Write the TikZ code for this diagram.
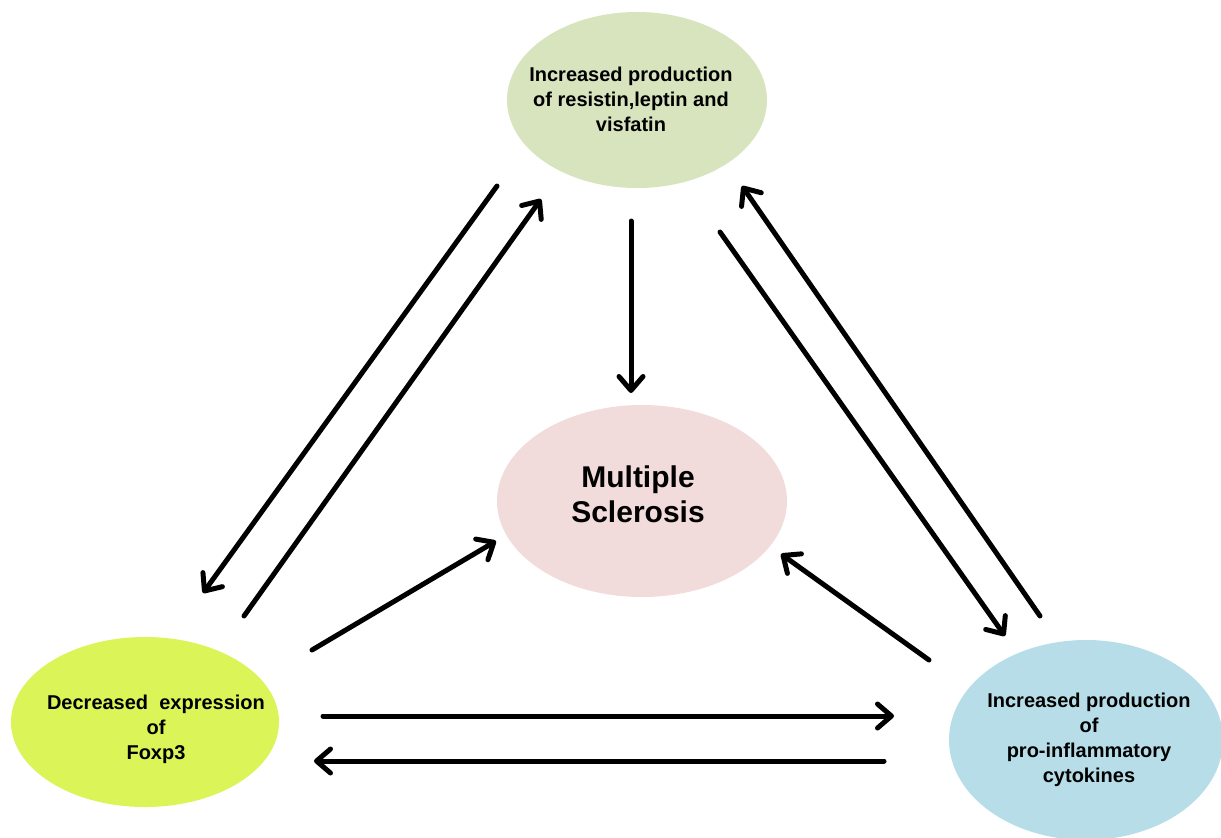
\documentclass[tikz,border=0pt]{standalone}
\usepackage{fontspec}
\setmainfont{Liberation Sans}
\usetikzlibrary{shapes.geometric,arrows.meta}
\definecolor{topgreen}{HTML}{D7E4BD}
\definecolor{mspink}{HTML}{F2DCDB}
\definecolor{limegreen}{HTML}{DBF457}
\definecolor{lightblue}{HTML}{B7DEE8}
\begin{document}
\begin{tikzpicture}[x=0.5pt,y=-0.5pt,
  blob/.style={ellipse,inner sep=0pt},
  txt/.style={align=center,inner sep=0pt,font=\bfseries\fontsize{10}{12.5}\selectfont},
  arr/.style={line width=2.5pt,line cap=round,-{Straight Barb[length=7pt,width=12pt,line cap=round,line join=round]}}]
\useasboundingbox (0,0) rectangle (1221,837);
\node[blob,fill=topgreen,minimum width=130pt,minimum height=88pt] (top) at (637,100) {};
\node[txt] (toptxt) at (631,99) {Increased production\\of resistin,leptin and\\visfatin};
\node[blob,fill=mspink,minimum width=145pt,minimum height=96pt] (ms) at (642,501) {};
\node[txt,font=\bfseries\fontsize{15}{17.5}\selectfont] (mstxt) at (638,494) {Multiple\\Sclerosis};
\node[blob,fill=limegreen,minimum width=134pt,minimum height=85pt] (left) at (145,722) {};
\node[txt] (lefttxt) at (156,729) {Decreased\ \ expression\\of\\Foxp3};
\node[blob,fill=lightblue,minimum width=137pt,minimum height=100pt] (right) at (1086,740) {};
\node[txt] (righttxt) at (1089,740) {Increased production\\of\\pro-inflammatory\\cytokines};
% arrow endpoints
\coordinate (a1s) at (497,186); \coordinate (a1e) at (203,593);
\coordinate (a2s) at (244,616); \coordinate (a2e) at (541,199);
\coordinate (a3s) at (631,221); \coordinate (a3e) at (631,393);
\coordinate (a4s) at (720,232); \coordinate (a4e) at (1005,636);
\coordinate (a5s) at (1040,616); \coordinate (a5e) at (742,186);
\coordinate (a6s) at (312,650); \coordinate (a6e) at (496,541);
\coordinate (a7s) at (929,660); \coordinate (a7e) at (781,554);
\coordinate (a8s) at (323,716); \coordinate (a8e) at (894,716);
\coordinate (a9s) at (884,761); \coordinate (a9e) at (314,761);
\draw[arr] (a1s) -- (a1e);
\draw[arr] (a2s) -- (a2e);
\draw[arr] (a3s) -- (a3e);
\draw[arr] (a4s) -- (a4e);
\draw[arr] (a5s) -- (a5e);
\draw[arr] (a6s) -- (a6e);
\draw[arr] (a7s) -- (a7e);
\draw[arr] (a8s) -- (a8e);
\draw[arr] (a9s) -- (a9e);
\end{tikzpicture}
\end{document}
